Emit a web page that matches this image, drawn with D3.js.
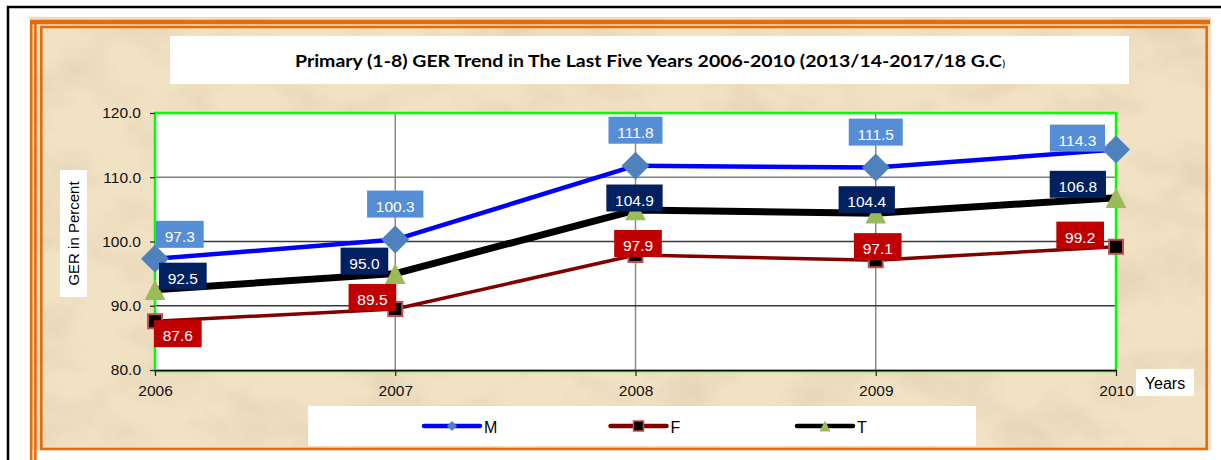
<!DOCTYPE html>
<html>
<head>
<meta charset="utf-8">
<script src="https://cdn.jsdelivr.net/npm/d3@7/dist/d3.min.js"></script>
<style>
  body { margin: 0; background: #fff; }
  svg { display: block; }
</style>
</head>
<body>
<div id="chart"></div>
<script>
// values
var years = [2006, 2007, 2008, 2009, 2010];
var maleGER = [97.3, 100.3, 111.8, 111.5, 114.3];
var femaleGER = [87.6, 89.5, 97.9, 97.1, 99.2];
var totalGER = [92.5, 95.0, 104.9, 104.4, 106.8];
var yTicks = [80, 90, 100, 110, 120];
var seriesNames = ["M", "F", "T"];

var titleText = "Primary (1-8) GER Trend in The Last Five Years 2006-2010 (2013/14-2017/18 G.C";

// where each data label box sits relative to its point: [dx, dy of box bottom, anchor]
var labelPlace = {
  M: [[1, -11, "start"], [0, -22, "mid"], [0, -22, "mid"], [0, -22, "mid"], [-11, 2, "end"]],
  F: [[-1, 26, "start"], [1, 2, "end"], [2.5, 2, "mid"], [2, 0, "mid"], [-12, 2, "end"]],
  T: [[4, 0, "start"], [-7, 1, "end"], [-1, 1.5, "mid"], [-9, 0, "mid"], [-10, 0, "end"]]
};

var series = [
  {name: "M", values: maleGER, line: "#0000ff", width: 4.5, marker: "diamond", fill: "#4f81bd", stroke: "none", box: "#558ed5"},
  {name: "F", values: femaleGER, line: "#800000", width: 3.5, marker: "square", fill: "#000000", stroke: "#c0504d", box: "#c00000"},
  {name: "T", values: totalGER, line: "#000000", width: 7, marker: "triangle", fill: "#9bbb59", stroke: "none", box: "#002060"}
];

var W = 1221, H = 460;
var plot = {left: 155, top: 113, right: 1116, bottom: 370};

var svg = d3.select("#chart").append("svg")
    .attr("width", W)
    .attr("height", H);

// parchment texture
var defs = svg.append("defs");
var paper = defs.append("filter")
    .attr("id", "paper")
    .attr("x", 0).attr("y", 0).attr("width", "100%").attr("height", "100%");
paper.append("feTurbulence")
    .attr("type", "fractalNoise")
    .attr("baseFrequency", "0.014 0.02")
    .attr("numOctaves", 4)
    .attr("seed", 7);
paper.append("feColorMatrix")
    .attr("type", "matrix")
    .attr("values", "0 0 0 0 0.70  0 0 0 0 0.58  0 0 0 0 0.40  1.1 0 0 0 -0.45");

svg.append("rect")
    .attr("x", 30).attr("y", 17)
    .attr("width", 1181).attr("height", 433)
    .attr("fill", "#f1e2c3");
svg.append("rect")
    .attr("x", 30).attr("y", 17)
    .attr("width", 1181).attr("height", 433)
    .attr("fill", "#fff")
    .attr("filter", "url(#paper)");

// outer black frame
svg.append("path")
    .attr("d", "M8," + H + "V7H" + W)
    .attr("fill", "none")
    .attr("stroke", "#000")
    .attr("stroke-width", 2.5);

// orange borders
var orange = "#e46c0a";
svg.append("line").attr("x1", 29).attr("x2", 1211).attr("y1", 18).attr("y2", 18)
    .attr("stroke", "#f5d9c4").attr("stroke-width", 1.5);
svg.append("line").attr("x1", 30).attr("x2", 1210).attr("y1", 22).attr("y2", 22)
    .attr("stroke", orange).attr("stroke-width", 4.5);
svg.append("line").attr("x1", 31.2).attr("x2", 31.2).attr("y1", 20).attr("y2", H)
    .attr("stroke", orange).attr("stroke-width", 2.6);
svg.append("line").attr("x1", 35.4).attr("x2", 35.4).attr("y1", 20).attr("y2", H)
    .attr("stroke", orange).attr("stroke-width", 2.6);
svg.append("rect")
    .attr("x", 41.3).attr("y", 27)
    .attr("width", 1165.4).attr("height", 422)
    .attr("fill", "none")
    .attr("stroke", orange)
    .attr("stroke-width", 2.6);

// title
svg.append("rect")
    .attr("x", 170).attr("y", 36)
    .attr("width", 959).attr("height", 48)
    .attr("fill", "#fff");
svg.append("text")
    .attr("x", 295).attr("y", 66.5)
    .attr("textLength", 707)
    .attr("lengthAdjust", "spacingAndGlyphs")
    .style("font-family", "Lato, 'Open Sans', sans-serif")
    .style("font-weight", "bold")
    .style("font-size", "17.5px")
    .text(titleText);
svg.append("text")
    .attr("x", 1002.5).attr("y", 66.5)
    .style("font-family", "Lato, sans-serif")
    .style("font-weight", "bold")
    .style("font-size", "9px")
    .text(")");

var x = d3.scalePoint().domain(years).range([plot.left, plot.right]).padding(0);
var y = d3.scaleLinear().domain([80, 120]).range([plot.bottom, plot.top]);

var g = svg.append("g");

// plot area
g.append("rect")
    .attr("x", plot.left).attr("y", plot.top)
    .attr("width", plot.right - plot.left).attr("height", plot.bottom - plot.top)
    .attr("fill", "#fff");

// gridlines
g.selectAll(".vgrid")
  .data(years)
  .enter().append("line")
    .attr("x1", function(d) { return x(d) })
    .attr("x2", function(d) { return x(d) })
    .attr("y1", plot.top).attr("y2", plot.bottom)
    .attr("stroke", "#8a8a8a")
    .attr("stroke-width", 1.5);

g.selectAll(".hgrid")
  .data(yTicks.slice(1, -1))
  .enter().append("line")
    .attr("x1", plot.left).attr("x2", plot.right)
    .attr("y1", function(d) { return y(d) })
    .attr("y2", function(d) { return y(d) })
    .attr("stroke", function(d) { return d == 110 ? "#808080" : "#3a3a3a" })
    .attr("stroke-width", 1.3);

// green plot border
g.append("rect")
    .attr("x", plot.left).attr("y", plot.top)
    .attr("width", plot.right - plot.left).attr("height", plot.bottom - plot.top + 1)
    .attr("fill", "none")
    .attr("stroke", "#00ff00")
    .attr("stroke-width", 2.5);

// axes
var xAxis = g.append("g")
    .attr("transform", "translate(0," + plot.bottom + ")")
    .call(d3.axisBottom(x).tickSize(6).tickPadding(9).tickSizeOuter(0));
xAxis.select(".domain").attr("stroke", "#000").attr("stroke-width", 1.3);

var yAxis = g.append("g")
    .attr("transform", "translate(" + plot.left + ",0)")
    .call(d3.axisLeft(y).tickValues(yTicks).tickFormat(d3.format(".1f")).tickSize(5).tickPadding(9));
yAxis.select(".domain").remove();

g.selectAll(".tick text")
    .style("font-family", "'Liberation Sans', Arial, sans-serif")
    .style("font-size", "15.5px")
    .attr("fill", "#111");
g.selectAll(".tick line").attr("stroke", "#222").attr("stroke-width", 1.2);

// axis titles in white boxes
svg.append("rect")
    .attr("x", 60).attr("y", 170)
    .attr("width", 27).attr("height", 127)
    .attr("fill", "#fff");
svg.append("text")
    .attr("transform", "translate(79,233.5) rotate(-90)")
    .style("text-anchor", "middle")
    .style("font-family", "'Liberation Sans', Arial, sans-serif")
    .style("font-size", "15px")
    .text("GER in Percent");

svg.append("rect")
    .attr("x", 1136).attr("y", 369)
    .attr("width", 58).attr("height", 27)
    .attr("fill", "#fff");
svg.append("text")
    .attr("x", 1165).attr("y", 388.5)
    .style("text-anchor", "middle")
    .style("font-family", "'Liberation Sans', Arial, sans-serif")
    .style("font-size", "16px")
    .text("Years");

// marker shapes
function markerPath(type, s) {
  if (type == "diamond") return "M0," + (-s) + "L" + s + ",0L0," + s + "L" + (-s) + ",0Z";
  if (type == "triangle") return "M0," + (-s) + "L" + s + "," + s + "L" + (-s) + "," + s + "Z";
  return "M" + (-s) + "," + (-s) + "H" + s + "V" + s + "H" + (-s) + "Z";
}
var markerSize = {diamond: 14, square: 7, triangle: 10.3};

var valueline = d3.line()
    .x(function(d, i) { return x(years[i]) })
    .y(function(d) { return y(d) });

// lines, drawn M, F, T
series.forEach(function(s) {
  g.append("path")
    .datum(s.values)
    .attr("fill", "none")
    .attr("stroke", s.line)
    .attr("stroke-width", s.width)
    .attr("stroke-linejoin", "round")
    .attr("d", valueline);
});

// markers
series.forEach(function(s) {
  g.selectAll(".mk-" + s.name)
    .data(s.values)
    .enter().append("path")
      .attr("transform", function(d, i) { return "translate(" + x(years[i]) + "," + y(d) + ")" })
      .attr("d", markerPath(s.marker, markerSize[s.marker]))
      .attr("fill", s.fill)
      .attr("stroke", s.stroke)
      .attr("stroke-width", 2);
});

// data labels
series.forEach(function(s) {
  s.values.forEach(function(v, i) {
    var px = x(years[i]), py = y(v);
    var place = labelPlace[s.name][i];
    var lbl = g.append("g");
    var t = lbl.append("text")
        .style("font-family", "'Liberation Sans', Arial, sans-serif")
        .style("font-size", "15.5px")
        .attr("fill", "#fff")
        .style("text-anchor", "middle")
        .text(v.toFixed(1));
    var bw = t.node().getComputedTextLength() + 17.5, bh = 27;
    var bx;
    if (place[2] == "start") bx = px + place[0];
    else if (place[2] == "end") bx = px + place[0] - bw;
    else bx = px + place[0] - bw / 2;
    var by = py + place[1] - bh;
    lbl.insert("rect", "text")
        .attr("x", bx).attr("y", by)
        .attr("width", bw).attr("height", bh)
        .attr("fill", s.box);
    t.attr("x", bx + bw / 2).attr("y", by + bh - 6);
  });
});

// legend
svg.append("rect")
    .attr("x", 308).attr("y", 406)
    .attr("width", 668).attr("height", 40)
    .attr("fill", "#fff");

var legendSize = {diamond: 5, square: 5, triangle: 5.5};
var legend = svg.selectAll(".legend")
    .data(series)
    .enter().append("g")
      .attr("transform", function(d, i) { return "translate(" + (424 + i * 186.5) + ",426)" });
legend.append("line")
    .attr("x1", 0).attr("x2", 56)
    .attr("stroke", function(d) { return d.line })
    .attr("stroke-width", 4.5)
    .attr("stroke-linecap", "round");
legend.append("path")
    .attr("transform", "translate(28,0)")
    .attr("d", function(d) { return markerPath(d.marker, legendSize[d.marker]) })
    .attr("fill", function(d) { return d.fill })
    .attr("stroke", function(d) { return d.stroke })
    .attr("stroke-width", 1.5);
legend.append("text")
    .attr("x", 60).attr("y", 6.5)
    .style("font-family", "'Liberation Sans', Arial, sans-serif")
    .style("font-size", "16px")
    .text(function(d) { return d.name });
</script>
</body>
</html>
